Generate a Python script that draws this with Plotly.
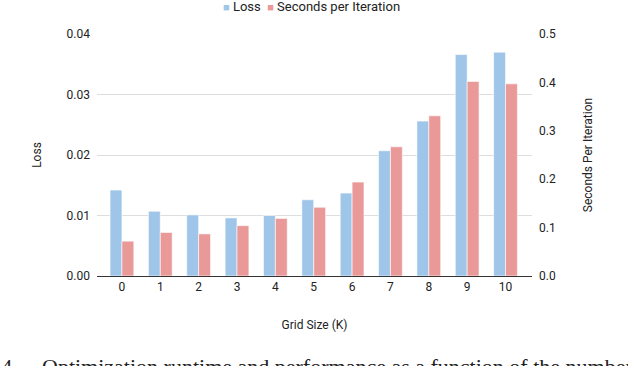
import plotly.graph_objects as go

grid_size = ["0", "1", "2", "3", "4", "5", "6", "7", "8", "9", "10"]
loss = [0.0142, 0.0107, 0.0101, 0.0096, 0.0100, 0.0126, 0.0137, 0.0207, 0.0256, 0.0366, 0.0370]
sec_per_iter = [0.072, 0.090, 0.087, 0.104, 0.119, 0.142, 0.194, 0.267, 0.331, 0.402, 0.397]

blue = "#9fc5e8"
red = "#ea9999"
font = "Roboto, Arial, sans-serif"

fig = go.Figure()

fig.add_trace(go.Bar(
    x=grid_size, y=loss, name="Loss",
    marker=dict(color=blue, line=dict(color="white", width=0.6)),
    width=0.31, offset=-0.31, yaxis="y"))

fig.add_trace(go.Bar(
    x=grid_size, y=sec_per_iter, name="Seconds per Iteration",
    marker=dict(color=red, line=dict(color="white", width=0.6)),
    width=0.31, offset=0.0, yaxis="y2"))

fig.update_layout(
    width=628, height=366,
    margin=dict(l=97, r=96, t=34, b=90, autoexpand=False),
    plot_bgcolor="white", paper_bgcolor="white",
    font=dict(family=font, size=12, color="#222222"),
    showlegend=False,
    xaxis=dict(type="category", range=[-0.65, 10.69], showgrid=False,
               showline=True, linecolor="#333333", linewidth=1,
               ticks="", tickfont=dict(size=12, color="#222222"),
               title=dict(text="Grid Size (K)", font=dict(size=12), standoff=27)),
    yaxis=dict(range=[0, 0.04], tickvals=[0, 0.01, 0.02, 0.03, 0.04],
               tickformat=".2f", showgrid=True, gridcolor="#dedede", gridwidth=1,
               zeroline=False, showline=False, ticks="", ticklabelstandoff=6,
               tickfont=dict(size=12, color="#222222"),
               title=dict(text="Loss", font=dict(size=12), standoff=22)),
    yaxis2=dict(range=[0, 0.5], tickvals=[0, 0.1, 0.2, 0.3, 0.4, 0.5],
                tickformat=".1f", overlaying="y", side="right", showgrid=False,
                zeroline=False, showline=False, ticks="", ticklabelstandoff=6,
                tickfont=dict(size=12, color="#222222"),
                title=dict(text="Seconds Per Iteration", font=dict(size=12), standoff=28)),
)

# legend drawn as text so the swatches sit tight against the labels
legend_text = (f'<span style="color:{blue};font-size:11px">■</span> Loss  '
               f'<span style="color:{red};font-size:11px">■</span> Seconds per Iteration')
fig.add_annotation(text=legend_text, xref="paper", yref="paper", x=0.493, y=1.114,
                   xanchor="center", yanchor="middle", showarrow=False,
                   font=dict(size=13, color="#222222"))

# caption of the figure, cut off by the bottom edge as in the source
serif = dict(family="Liberation Serif, serif", size=22, color="#222222")
fig.add_annotation(text="Fig. 4.", xref="paper", yref="paper", x=-0.177, y=-0.314,
                   xanchor="right", yanchor="top", showarrow=False, font=serif)
fig.add_annotation(text="Optimization runtime and performance as a function of the number of grid cells",
                   xref="paper", yref="paper", x=-0.131, y=-0.314,
                   xanchor="left", yanchor="top", showarrow=False, font=serif)

fig.write_html("out.html", config={"displayModeBar": False},
               post_script="document.body.style.margin='0px';")
